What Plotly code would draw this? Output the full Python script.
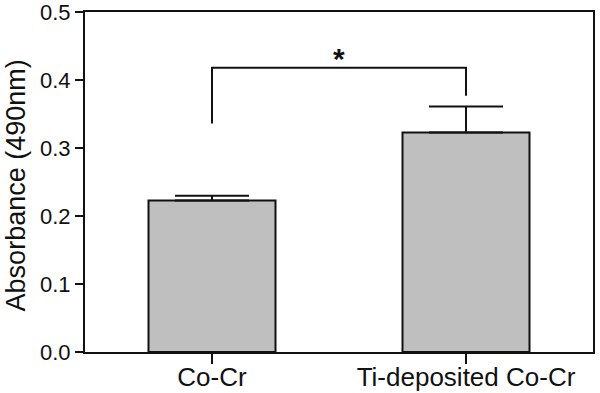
import plotly.graph_objects as go

categories = ["Co-Cr", "Ti-deposited Co-Cr"]
means = [0.223, 0.323]
errors_up = [0.007, 0.038]
y_ticks = [0.0, 0.1, 0.2, 0.3, 0.4, 0.5]
y_tick_labels = ["0.0", "0.1", "0.2", "0.3", "0.4", "0.5"]
bracket_y_top = 0.418
bracket_left_bottom = 0.336
bracket_right_bottom = 0.377
sig_label = "*"

FONT = "Liberation Sans, Arial, sans-serif"

fig = go.Figure()
fig.add_trace(go.Bar(
    x=[0, 1], y=means, width=0.5,
    marker=dict(color="#bfbfbf", line=dict(color="#111111", width=2)),
    error_y=dict(type="data", array=errors_up, arrayminus=[0, 0], symmetric=False,
                 color="#111111", thickness=2, width=37),
    showlegend=False, hoverinfo="skip",
))

# significance bracket
fig.add_shape(type="path",
              path=f"M 0,{bracket_left_bottom} L 0,{bracket_y_top} L 1,{bracket_y_top} L 1,{bracket_right_bottom}",
              xref="x", yref="y", line=dict(color="#111111", width=2))
fig.add_annotation(x=0.5, y=0.437, xref="x", yref="y", text="<b>" + sig_label + "</b>",
                   showarrow=False, yanchor="middle", yshift=-4,
                   font=dict(family=FONT, size=30, color="#111111"))

# y title
fig.add_annotation(x=(16 - 85) / 508, y=0.49, xref="paper", yref="paper",
                   text="Absorbance (490nm)", textangle=-90, showarrow=False,
                   xanchor="center", yanchor="middle",
                   font=dict(family=FONT, size=27, color="#111111"))

fig.update_layout(
    width=600, height=393,
    margin=dict(l=85, r=7, t=12, b=41),
    plot_bgcolor="white", paper_bgcolor="white",
    font=dict(family=FONT, color="#111111"),
    xaxis=dict(range=[-0.5, 1.5], tickvals=[0, 1], ticktext=categories, automargin=False,
               showgrid=False, zeroline=False, showline=True, linecolor="#111111",
               linewidth=2, mirror=True, ticks="outside", ticklen=10, tickwidth=2,
               tickcolor="#111111", ticklabeloverflow="allow", ticklabelstandoff=-9,
               tickfont=dict(size=26, family=FONT, color="#111111")),
    yaxis=dict(range=[0, 0.5001], tickvals=y_ticks, ticktext=y_tick_labels, automargin=False,
               showgrid=False, zeroline=False, showline=True, linecolor="#111111",
               linewidth=2, mirror=True, ticks="outside", ticklen=8, tickwidth=2,
               tickcolor="#111111", ticklabeloverflow="allow",
               tickfont=dict(size=22, family=FONT, color="#111111")),
)

fig.write_html("out.html", post_script="document.body.style.margin='0';",
               config={"displayModeBar": False, "staticPlot": True})
